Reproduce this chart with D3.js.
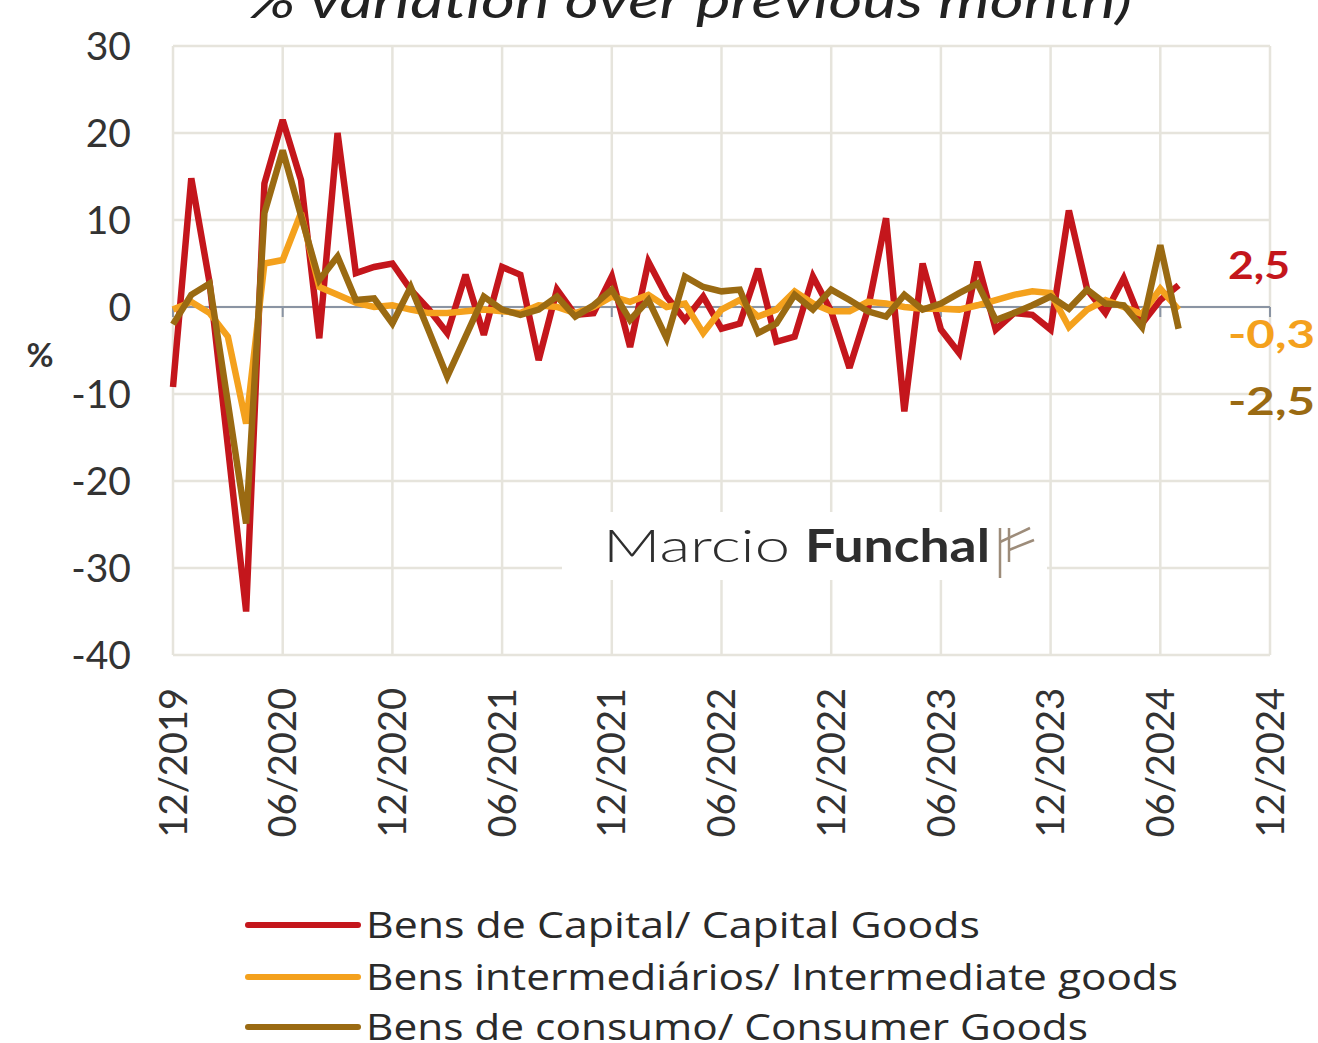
<!DOCTYPE html>
<html><head><meta charset="utf-8">
<script src="https://cdn.jsdelivr.net/npm/d3@7"></script>
<style>
html,body{margin:0;padding:0;background:#fff;}
svg{display:block;}
</style></head>
<body>
<svg id="chart" width="1318" height="1043"></svg>
<script>
// ---- data ----
const tickLabels = ["12/2019","06/2020","12/2020","06/2021","12/2021","06/2022","12/2022","06/2023","12/2023","06/2024","12/2024"];
const yTicks = [30,20,10,0,-10,-20,-30,-40];
const seriesNames = ["Bens de Capital/ Capital Goods","Bens intermediários/ Intermediate goods","Bens de consumo/ Consumer Goods"];
const capital = [-9.2,14.8,2.8,-16,-35,14.2,21.5,14.6,-3.6,20,3.9,4.6,5.0,2.0,-0.3,-3.0,3.7,-3.2,4.6,3.7,-6.1,2.0,-0.9,-0.7,3.5,-4.6,5.2,1.2,-1.5,1.2,-2.5,-1.9,4.4,-4.0,-3.4,3.5,-0.5,-7.0,-0.3,10.2,-12.0,5.0,-2.6,-5.3,5.2,-2.6,-0.7,-0.9,-2.6,11.1,2.0,-0.7,3.3,-1.9,0.8,2.5];
const intermediate = [-0.3,0.6,-0.7,-3.4,-13.4,5.0,5.4,10.8,2.3,1.4,0.5,0,0.2,-0.3,-0.7,-0.7,-0.5,-0.3,-0.5,-0.7,0.2,0,-0.7,0,1.2,0.6,1.4,0,0.4,-3.0,-0.3,0.8,-1.1,-0.3,1.8,0.4,-0.5,-0.5,0.6,0.4,0,-0.2,-0.2,-0.3,0.2,0.8,1.4,1.8,1.6,-2.3,-0.3,0.8,0,-0.8,2.1,-0.3];
const consumer = [-2,1.4,2.7,-11,-24.9,10.8,18,10.5,3.1,5.8,0.8,1.0,-1.9,2.3,-2.8,-8.0,-3.4,1.2,-0.3,-0.9,-0.3,1.2,-1.1,0.2,2.0,-1.5,0.8,-3.6,3.5,2.3,1.8,2.0,-3.0,-1.9,1.4,-0.3,2.0,0.8,-0.5,-1.1,1.4,-0.3,0.4,1.6,2.7,-1.5,-0.7,0.2,1.2,-0.2,2.0,0.4,0.2,-2.3,7.1,-2.5];
const lastLabels = ["2,5","-0,3","-2,5"];
const colors = ["#c4161c","#f4a11d","#9a6a12"];

// ---- layout ----
const svg = d3.select("#chart");
const L = 173, R = 1270, T = 46, B = 655;
const x = d3.scaleLinear().domain([0, 60]).range([L, R]);
const y = d3.scaleLinear().domain([-40, 30]).range([B, T]);
const tickIdx = tickLabels.map((d,i)=>i*6);
const FONT = "Lato, 'Open Sans', sans-serif";

// title (cut at top)
svg.append("text").attr("x", 247).attr("y", 18)
  .attr("textLength", 885).attr("lengthAdjust","spacingAndGlyphs")
  .style("font-family",FONT).style("font-style","italic")
  .style("font-size","50px").style("fill","#222")
  .text("% variation over previous month)");

// grid
const g = svg.append("g");
g.selectAll("line.h").data(yTicks).join("line").attr("class","h")
  .attr("x1", L).attr("x2", R).attr("y1", d=>y(d)).attr("y2", d=>y(d))
  .attr("stroke", "#e6e4dc").attr("stroke-width", 2.5);
g.selectAll("line.v").data(tickIdx).join("line").attr("class","v")
  .attr("x1", d=>x(d)).attr("x2", d=>x(d)).attr("y1", T).attr("y2", B)
  .attr("stroke", "#e6e4dc").attr("stroke-width", 2.5);

// watermark background
svg.append("rect").attr("x", 562).attr("y", 512).attr("width", 485).attr("height", 68).attr("fill","#fff");
svg.append("text").attr("x", 603).attr("y", 562)
  .attr("textLength", 187).attr("lengthAdjust","spacingAndGlyphs")
  .style("font-family",FONT).style("font-size","46px").style("font-weight","300").style("fill","#2e2e2e")
  .text("Marcio");
svg.append("text").attr("x", 805).attr("y", 562)
  .attr("textLength", 185).attr("lengthAdjust","spacingAndGlyphs")
  .style("font-family",FONT).style("font-size","46px").style("font-weight","700").style("fill","#2e2e2e")
  .text("Funchal");
// small logo mark
const lg = svg.append("g").attr("stroke","#9d8c7a").attr("stroke-width",2.5).attr("fill","none");
lg.append("line").attr("x1",1000).attr("y1",578).attr("x2",1000).attr("y2",528);
lg.append("line").attr("x1",1009).attr("y1",562).attr("x2",1009).attr("y2",528);
lg.append("line").attr("x1",1000).attr("y1",542).attr("x2",1030).attr("y2",528);
lg.append("line").attr("x1",1009).attr("y1",550).attr("x2",1034).attr("y2",540);

// zero axis
svg.append("line").attr("x1", L).attr("x2", R).attr("y1", y(0)).attr("y2", y(0))
  .attr("stroke","#8a94a3").attr("stroke-width",2);
svg.selectAll("line.zt").data(tickIdx).join("line").attr("class","zt")
  .attr("x1", d=>x(d)).attr("x2", d=>x(d)).attr("y1", y(0)).attr("y2", y(0)+10)
  .attr("stroke","#8a94a3").attr("stroke-width",2);

// y labels
svg.selectAll("text.yl").data(yTicks).join("text").attr("class","yl")
  .attr("x", 131).attr("y", d=>y(d)).attr("dy","0.36em").attr("text-anchor","end")
  .style("font-family",FONT).style("font-size","39px").style("fill","#333")
  .text(d=>d);
svg.append("text").attr("x", 40).attr("y", 355).attr("text-anchor","middle").attr("dy","0.36em")
  .style("font-family",FONT).style("font-size","33px").style("font-weight","700").style("fill","#333")
  .text("%");

// x labels
svg.selectAll("text.xl").data(tickIdx).join("text").attr("class","xl")
  .attr("transform", (d)=>`translate(${x(d)},688) rotate(-90)`)
  .attr("text-anchor","end").attr("dy","0.36em")
  .style("font-family",FONT).style("font-size","38px").style("fill","#333")
  .text((d,i)=>tickLabels[i]);

// lines
const line = d3.line().x((d,i)=>x(i)).y(d=>y(d));
[capital, intermediate, consumer].forEach((s,k)=>{
  svg.append("path").datum(s).attr("d", line).attr("fill","none")
    .attr("stroke", colors[k]).attr("stroke-width", 6.5)
    .attr("stroke-linejoin","miter").attr("stroke-miterlimit", 3);
});

// end labels
const endY = [265, 334, 401];
const endW = [62, 87, 87];
lastLabels.forEach((t,k)=>{
  svg.append("text").attr("x", 1228).attr("y", endY[k]).attr("dy","0.36em")
    .attr("textLength", endW[k]).attr("lengthAdjust","spacingAndGlyphs")
    .style("font-family",FONT).style("font-size","39px").style("font-weight","700")
    .style("fill", colors[k]).text(t);
});

// legend
const legY = [925, 977, 1027];
const legW = [614, 812, 722];
seriesNames.forEach((n,k)=>{
  svg.append("line").attr("x1", 248).attr("x2", 358).attr("y1", legY[k]).attr("y2", legY[k])
    .attr("stroke", colors[k]).attr("stroke-width", 6).attr("stroke-linecap","round");
  svg.append("text").attr("x", 366).attr("y", legY[k]).attr("dy","0.36em")
    .attr("textLength", legW[k]).attr("lengthAdjust","spacingAndGlyphs")
    .style("font-family","'Open Sans', sans-serif").style("font-size","37px").style("fill","#2a2a2a")
    .text(n);
});
</script>
</body></html>
